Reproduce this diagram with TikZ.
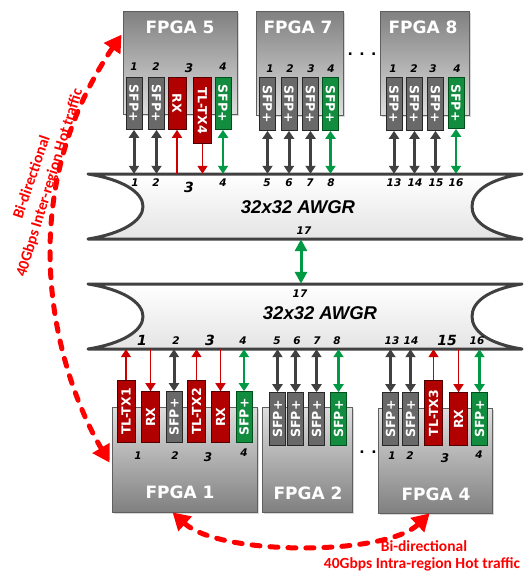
\documentclass[tikz,border=0pt]{standalone}
\usepackage{fontspec}
\newfontfamily\dv{DejaVu Sans}[BoldFont={DejaVu Sans Bold},ItalicFont={DejaVu Sans Oblique},BoldItalicFont={DejaVu Sans Bold Oblique}]
\newfontfamily\lib{Liberation Sans}
\newfontfamily\carl{Carlito}
\usetikzlibrary{arrows.meta,calc,shadows}
\definecolor{fpgadark}{RGB}{128,128,128}
\definecolor{fpgalight}{RGB}{222,222,222}
\definecolor{fpgaborder}{RGB}{95,95,95}
\definecolor{sfpgray}{RGB}{105,105,105}
\definecolor{sfpborder}{RGB}{40,40,40}
\definecolor{boxred}{RGB}{176,0,0}
\definecolor{redborder}{RGB}{80,0,0}
\definecolor{boxgreen}{RGB}{18,140,62}
\definecolor{greenborder}{RGB}{0,80,30}
\definecolor{arrgray}{RGB}{64,64,64}
\definecolor{arrred}{RGB}{204,0,0}
\definecolor{arrgreen}{RGB}{0,153,68}
\definecolor{hotred}{RGB}{255,0,0}
\definecolor{awgrline}{RGB}{64,64,64}
\definecolor{awgrlight}{RGB}{228,228,228}
\tikzset{
  fpgabox/.style={draw=fpgaborder, line width=0.8pt, inner sep=0pt, drop shadow={shadow xshift=2pt, shadow yshift=-2pt, opacity=0.3}},
  fpgatop/.style={fpgabox, top color=fpgadark, bottom color=fpgalight},
  fpgabot/.style={fpgabox, top color=fpgalight, bottom color=fpgadark},
  fpgalbl/.style={text=white, inner sep=0pt, font=\dv\bfseries\fontsize{17}{17}\selectfont},
  port/.style={line width=0.8pt, inner sep=0pt, text=white, minimum width=16pt, font=\dv\bfseries\fontsize{12.5}{12.5}\selectfont},
  sfp/.style={port, fill=sfpgray, draw=sfpborder},
  sfpg/.style={port, fill=boxgreen, draw=greenborder},
  redport/.style={port, fill=boxred, draw=redborder, minimum width=18pt},
  num/.style={inner sep=0pt, font=\dv\bfseries\itshape\fontsize{10.5}{11}\selectfont},
  bignum/.style={inner sep=0pt, font=\dv\bfseries\itshape\fontsize{14}{14}\selectfont},
  midnum/.style={inner sep=0pt, font=\dv\bfseries\itshape\fontsize{12}{12}\selectfont},
  awgrframe/.style={minimum width=434pt, minimum height=65pt, inner sep=0pt, draw=none},
  awgrlbl/.style={inner sep=0pt, font=\lib\bfseries\itshape\fontsize{18.5}{19}\selectfont},
  garrow/.style={draw=arrgray, line width=3pt, {Triangle[length=8pt,width=10pt]}-{Triangle[length=8pt,width=10pt]}},
  gnarrow/.style={draw=arrgreen, line width=2.5pt, {Triangle[length=8pt,width=10pt]}-{Triangle[length=8pt,width=10pt]}},
  rarrow/.style={draw=arrred, line width=1.5pt, -{Triangle[length=8pt,width=10pt]}},
  bigarrow/.style={draw=arrgreen, line width=3pt, {Triangle[length=12pt,width=12pt]}-{Triangle[length=12pt,width=12pt]}},
  hotarc/.style={draw=hotred, line width=5pt, dash pattern=on 8pt off 10pt, line cap=round, {Triangle[length=17pt,width=19pt]}-{Triangle[length=17pt,width=19pt]}},
  hottext/.style={text=hotred, inner sep=0pt, font=\carl\bfseries\fontsize{15.5}{19}\selectfont},
  dotlbl/.style={inner sep=0pt, font=\dv\bfseries\fontsize{14}{14}\selectfont},
  pics/awgr/.style={code={
    \path[draw=awgrline, line width=3pt, line join=round, top color=white, bottom color=awgrlight]
      (-217,-32.5) -- (217,-32.5)
      .. controls (182,-27) and (167,-14) .. (167,0)
      .. controls (167,14) and (182,27) .. (217,32.5)
      -- (-217,32.5)
      .. controls (-182,27) and (-162,14) .. (-162,0)
      .. controls (-162,-14) and (-182,-27) .. cycle;
  }}
}
\begin{document}
\begin{tikzpicture}[x=1pt,y=-1pt]
\useasboundingbox (0,0) rectangle (523,571);
\fill[white] (0,0) rectangle (523,571);

% FPGA boxes
\node[fpgatop, minimum width=114pt, minimum height=103pt] (fpga5) at (180,62.5) {};
\node[fpgatop, minimum width=87pt, minimum height=104pt] (fpga7) at (299.5,63) {};
\node[fpgatop, minimum width=89pt, minimum height=104pt] (fpga8) at (424.5,63) {};
\node[fpgabot, minimum width=145pt, minimum height=105pt] (fpga1) at (184.5,459.5) {};
\node[fpgabot, minimum width=90pt, minimum height=105pt] (fpga2) at (307,459.5) {};
\node[fpgabot, minimum width=114pt, minimum height=105pt] (fpga4) at (435,460.5) {};
\node[fpgalbl] (l5) at (180,27) {FPGA 5};
\node[fpgalbl] (l7) at (298,27) {FPGA 7};
\node[fpgalbl] (l8) at (423,27) {FPGA 8};
\node[fpgalbl] (l1) at (180,492) {FPGA 1};
\node[fpgalbl] (l2) at (308,493) {FPGA 2};
\node[fpgalbl] (l4) at (436,494) {FPGA 4};

% AWGRs
\pic at (305,206.5) {awgr};
\node[awgrframe] (awgrA) at (305,206.5) {};
\pic at (305,316.5) {awgr};
\node[awgrframe] (awgrB) at (305,316.5) {};
\node[awgrlbl] (awA) at (298,207) {32x32 AWGR};
\node[awgrlbl] (awB) at (320,313) {32x32 AWGR};

% top ports
\node[sfp, anchor=north, minimum height=52pt] (p5a) at (134,77) {\rotatebox{-90}{SFP+}};
\node[sfp, anchor=north, minimum height=52pt] (p5b) at (156.5,77) {\rotatebox{-90}{SFP+}};
\node[redport, anchor=north, minimum height=52pt] (p5c) at (177,77) {\rotatebox{-90}{RX}};
\node[redport, anchor=north, minimum height=66pt] (p5d) at (202.5,77) {\rotatebox{-90}{TL-TX4}};
\node[sfpg, anchor=north, minimum height=52pt] (p5e) at (223,77) {\rotatebox{-90}{SFP+}};
\node[sfp, anchor=north, minimum height=53pt] (p7a) at (267.5,77) {\rotatebox{-90}{SFP+}};
\node[sfp, anchor=north, minimum height=53pt] (p7b) at (289,77) {\rotatebox{-90}{SFP+}};
\node[sfp, anchor=north, minimum height=53pt] (p7c) at (310.5,77) {\rotatebox{-90}{SFP+}};
\node[sfpg, anchor=north, minimum height=53pt] (p7d) at (330.5,77) {\rotatebox{-90}{SFP+}};
\node[sfp, anchor=north, minimum height=53pt] (p8a) at (394,77) {\rotatebox{-90}{SFP+}};
\node[sfp, anchor=north, minimum height=53pt] (p8b) at (414.5,77) {\rotatebox{-90}{SFP+}};
\node[sfp, anchor=north, minimum height=53pt] (p8c) at (435.5,77) {\rotatebox{-90}{SFP+}};
\node[sfpg, anchor=north, minimum height=51pt] (p8d) at (456,77) {\rotatebox{-90}{SFP+}};

% bottom ports
\node[redport, anchor=south, minimum height=62pt] (b1a) at (126,443) {\rotatebox{90}{TL-TX1}};
\node[redport, anchor=south, minimum height=51pt] (b1b) at (150.5,443) {\rotatebox{90}{RX}};
\node[sfp, anchor=south, minimum height=51pt] (b1c) at (174,443) {\rotatebox{90}{SFP+}};
\node[redport, anchor=south, minimum height=62pt] (b1d) at (196.5,443) {\rotatebox{90}{TL-TX2}};
\node[redport, anchor=south, minimum height=51pt] (b1e) at (220.5,443) {\rotatebox{90}{RX}};
\node[sfpg, anchor=south, minimum height=51pt] (b1f) at (244,443) {\rotatebox{90}{SFP+}};
\node[sfp, anchor=south, minimum height=53pt] (b2a) at (277.5,446) {\rotatebox{90}{SFP+}};
\node[sfp, anchor=south, minimum height=53pt] (b2b) at (295.5,446) {\rotatebox{90}{SFP+}};
\node[sfp, anchor=south, minimum height=53pt] (b2c) at (316.5,446) {\rotatebox{90}{SFP+}};
\node[sfpg, anchor=south, minimum height=53pt] (b2d) at (338.5,446) {\rotatebox{90}{SFP+}};
\node[sfp, anchor=south, minimum height=53pt] (b4a) at (390.5,446) {\rotatebox{90}{SFP+}};
\node[sfp, anchor=south, minimum height=53pt] (b4b) at (410.5,446) {\rotatebox{90}{SFP+}};
\node[redport, anchor=south, minimum height=65pt] (b4c) at (433.5,446) {\rotatebox{90}{TL-TX3}};
\node[redport, anchor=south, minimum height=53pt] (b4d) at (458.5,446) {\rotatebox{90}{RX}};
\node[sfpg, anchor=south, minimum height=53pt] (b4e) at (479.5,446) {\rotatebox{90}{SFP+}};

% connectors top
\foreach \p in {p5a,p5b,p7a,p7b,p7c,p8a,p8b,p8c}
  \draw[garrow] (\p.south) -- (\p.south |- awgrA.north);
\foreach \p in {p5e,p7d,p8d}
  \draw[gnarrow] (\p.south) -- (\p.south |- awgrA.north);
\draw[rarrow] (p5c.south |- awgrA.north) -- (p5c.south);
\draw[rarrow] (p5d.south) -- (p5d.south |- awgrA.north);

% connectors bottom
\foreach \p in {b1c,b2a,b2b,b2c,b4a,b4b}
  \draw[garrow] (\p.north) -- (\p.north |- awgrB.south);
\foreach \p in {b1f,b2d,b4e}
  \draw[gnarrow] (\p.north) -- (\p.north |- awgrB.south);
\foreach \p in {b1a,b1d,b4c}
  \draw[rarrow] (\p.north) -- (\p.north |- awgrB.south);
\foreach \p in {b1b,b1e,b4d}
  \draw[rarrow] (\p.north |- awgrB.south) -- (\p.north);

% middle link
\coordinate (mid) at (301,262);
\draw[bigarrow] (mid |- awgrA.south) -- (mid |- awgrB.north);

% port numbers
\foreach \t/\x/\y [count=\k] in {1/134/67,2/156/67,4/223/67,1/270/69,2/290/69,3/311/69,4/331/69,1/393/69,2/414/69,3/433/69,4/457/69}
  \node[num] (nt\k) at (\x,\y) {\t};
\node[midnum] (nt3x) at (189,68) {3};
\foreach \t/\x [count=\k] in {1/135,2/156,4/223,5/267,6/289,7/310,8/331,13/394,14/415,15/436,16/456}
  \node[num] (na\k) at (\x,183) {\t};
\node[bignum] (na3x) at (189,187) {3};
\node[num] (n17a) at (304,231) {17};
\node[num] (n17b) at (300,294) {17};
\foreach \t/\x [count=\k] in {2/176,4/243,5/277,6/297,7/317,8/337,13/392,14/411,16/477}
  \node[num] (nb\k) at (\x,341) {\t};
\foreach \t/\x [count=\k] in {1/142,3/210,15/447}
  \node[bignum] (nbb\k) at (\x,340) {\t};
\foreach \t/\x/\y [count=\k] in {1/138/456,2/175/456,4/244/453,1/392/456,2/410/456,4/479/455}
  \node[num] (nc\k) at (\x,\y) {\t};
\node[midnum] (nc3a) at (208,457) {3};
\node[midnum] (nc3b) at (445,458) {3};

% dots
\node[dotlbl] (dotsT) at (362,54) {. . .};
\node[dotlbl] (dotsB) at (368,452) {. .};

% hot traffic arcs
\draw[hotarc] ($(fpga1.north west)+(-2,56)$) .. controls (55,370) and (9,200) .. ($(fpga5.north west)+(-1,24)$);
\draw[hotarc] ($(fpga1.south west)+(61,0)$) .. controls (220,556) and (385,556) .. ($(fpga4.south west)+(52,0)$);
\node[hottext, rotate=71] (hotL1) at (31,177) {Bi-directional};
\node[hottext, rotate=73] (hotL2) at (50,183) {40Gbps Inter-region Hot traffic};
\node[hottext, anchor=base] (hotB1) at (424,551) {Bi-directional};
\node[hottext, anchor=base] (hotB2) at (422,568) {40Gbps Intra-region Hot traffic};
\end{tikzpicture}
\end{document}
